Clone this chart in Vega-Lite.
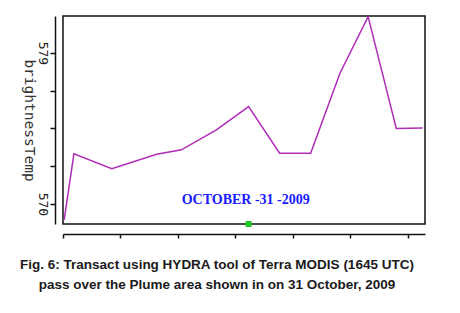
{
  "$schema": "https://vega.github.io/schema/vega-lite/v6.json",
  "width": 362,
  "height": 208,
  "autosize": {"type": "none"},
  "padding": {"left": 63, "top": 16, "right": 35, "bottom": 89},
  "background": "white",
  "title": {
    "text": ["Fig. 6:  Transact using HYDRA tool of Terra MODIS (1645 UTC)", "pass over the Plume area shown in on 31 October, 2009"],
    "orient": "bottom",
    "anchor": "middle",
    "dx": -27,
    "offset": 19,
    "font": "Liberation Sans",
    "fontSize": 13.5,
    "fontWeight": "bold",
    "color": "#1a1a1a",
    "lineHeight": 20
  },
  "config": {
    "view": {"stroke": "#111", "strokeWidth": 1.5},
    "axis": {"grid": false, "domainColor": "#111", "tickColor": "#111", "labelFont": "DejaVu Sans Mono", "titleFont": "DejaVu Sans Mono"}
  },
  "datasets": {
    "profile": [
      {"x": 0.02, "brightnessTemp": 569.05},
      {"x": 0.19, "brightnessTemp": 572.98},
      {"x": 0.85, "brightnessTemp": 572.09},
      {"x": 1.63, "brightnessTemp": 572.96},
      {"x": 2.06, "brightnessTemp": 573.22},
      {"x": 2.67, "brightnessTemp": 574.41},
      {"x": 3.23, "brightnessTemp": 575.8},
      {"x": 3.77, "brightnessTemp": 573.02},
      {"x": 4.31, "brightnessTemp": 573.02},
      {"x": 4.82, "brightnessTemp": 577.79},
      {"x": 5.31, "brightnessTemp": 581.16},
      {"x": 5.8, "brightnessTemp": 574.5},
      {"x": 6.26, "brightnessTemp": 574.53}
    ],
    "marker": [{"x": 3.23, "brightnessTemp": 568.8}],
    "label": [{"x": 3.18, "brightnessTemp": 570.24, "text": "OCTOBER -31 -2009"}]
  },
  "layer": [
    {
      "data": {"name": "profile"},
      "mark": {"type": "line", "color": "#b02cb8", "strokeWidth": 1.5},
      "encoding": {
        "x": {
          "field": "x", "type": "quantitative",
          "scale": {"domain": [0, 6.3], "nice": false, "zero": false},
          "axis": {"title": null, "labels": false, "values": [0, 1, 2, 3, 4, 5, 6], "offset": 10, "tickSize": 4, "domainWidth": 1.5, "tickWidth": 1.5}
        },
        "y": {
          "field": "brightnessTemp", "type": "quantitative",
          "scale": {"domain": [568.8, 581.2], "nice": false, "zero": false},
          "axis": {
            "title": "brightnessTemp",
            "titleAngle": 90,
            "titleFontWeight": "normal",
            "titleFontSize": 14.5,
            "titleColor": "#333",
            "titlePadding": 0,
            "titleBaseline": "top",
            "values": [570, 572.25, 574.5, 576.75, 579],
            "labelExpr": "datum.value == 570 || datum.value == 579 ? format(datum.value, 'd') : ''",
            "labelAngle": 90,
            "labelAlign": "center",
            "labelBaseline": "top",
            "labelFontSize": 13,
            "labelColor": "#222",
            "labelPadding": 2,
            "offset": 8,
            "tickSize": 5,
            "domainWidth": 1.5,
            "tickWidth": 1.5
          }
        }
      }
    },
    {
      "data": {"name": "marker"},
      "mark": {"type": "square", "color": "#22c822", "filled": true, "size": 36, "opacity": 1},
      "encoding": {
        "x": {"field": "x", "type": "quantitative"},
        "y": {"field": "brightnessTemp", "type": "quantitative"}
      }
    },
    {
      "data": {"name": "label"},
      "mark": {"type": "text", "color": "#1a1aff", "font": "Liberation Serif", "fontWeight": "bold", "fontSize": 14, "align": "center", "baseline": "middle"},
      "encoding": {
        "x": {"field": "x", "type": "quantitative"},
        "y": {"field": "brightnessTemp", "type": "quantitative"},
        "text": {"field": "text"}
      }
    }
  ]
}
